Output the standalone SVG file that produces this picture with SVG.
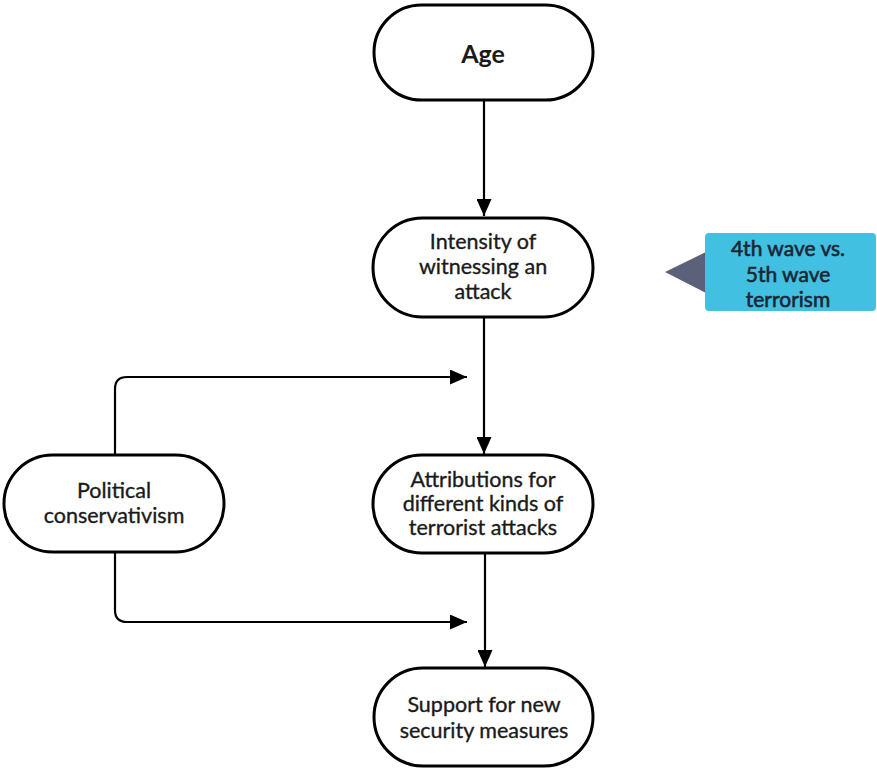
<svg xmlns="http://www.w3.org/2000/svg" width="877" height="768" viewBox="0 0 877 768">
<style>
.node{fill:#fff;stroke:#000;stroke-width:3}
.lbl{font-family:Lato,"Liberation Sans",sans-serif;font-size:21.5px;fill:#1a1a1a;stroke:#1a1a1a;stroke-width:0.35;text-anchor:middle}
.conn{fill:none;stroke:#000;stroke-width:2.2}
.call{font-family:Lato,"Liberation Sans",sans-serif;font-size:21px;fill:#1b2733;stroke:#1b2733;stroke-width:0.6;text-anchor:middle}
</style>
<defs>
<marker id="ah" viewBox="0 0 17 15" refX="17" refY="7.5" markerWidth="17" markerHeight="15" markerUnits="userSpaceOnUse" orient="auto">
<path d="M0,0 L17,7.5 L0,15 Z" fill="#000"/>
</marker>
</defs>
<g id="connectors">
<line class="conn" x1="484" y1="100" x2="484" y2="216" marker-end="url(#ah)"/>
<line class="conn" x1="484" y1="317" x2="484" y2="454" marker-end="url(#ah)"/>
<line class="conn" x1="485" y1="553" x2="485" y2="667" marker-end="url(#ah)"/>
<path class="conn" d="M115,455 V389 Q115,377 127,377 H467" marker-end="url(#ah)"/>
<path class="conn" d="M115,553 V610 Q115,622 127,622 H467" marker-end="url(#ah)"/>
</g>
<g id="age">
<rect class="node" x="374" y="5" width="219" height="95" rx="47.5"/>
<text class="lbl" x="483" y="63" style="font-size:25px;font-weight:bold;stroke-width:0">Age</text>
</g>
<g id="intensity">
<rect class="node" x="373" y="218" width="220" height="99" rx="49.5"/>
<text class="lbl" x="483" y="249">Intensity of</text>
<text class="lbl" x="483" y="274">witnessing an</text>
<text class="lbl" x="483" y="299">attack</text>
</g>
<g id="attributions">
<rect class="node" x="373" y="455" width="220" height="98" rx="49"/>
<text class="lbl" x="483" y="487">Attributions for</text>
<text class="lbl" x="483" y="511">different kinds of</text>
<text class="lbl" x="483" y="535">terrorist attacks</text>
</g>
<g id="political">
<rect class="node" x="4" y="455" width="220" height="97" rx="48.5"/>
<text class="lbl" x="114" y="498">Political</text>
<text class="lbl" x="114" y="523">conservativism</text>
</g>
<g id="support">
<rect class="node" x="374" y="668" width="219" height="98" rx="49"/>
<text class="lbl" x="484" y="712">Support for new</text>
<text class="lbl" x="484" y="738">security measures</text>
</g>
<g id="callout">
<polygon points="665,272 708,251 708,294" fill="#5b6178"/>
<rect x="705" y="233" width="171" height="78" rx="4" fill="#41c0e2"/>
<text class="call" x="788" y="256">4th wave vs.</text>
<text class="call" x="788" y="281.5">5th wave</text>
<text class="call" x="788" y="307">terrorism</text>
</g>
</svg>
